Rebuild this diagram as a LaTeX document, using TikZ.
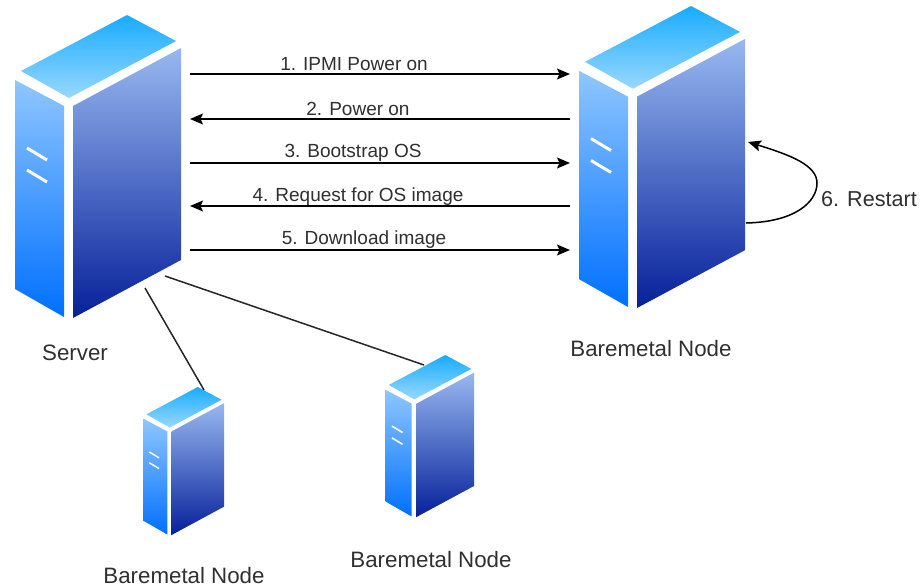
\documentclass[tikz,border=0pt]{standalone}
\usepackage{fontspec}
\setmainfont{Liberation Sans}
\usetikzlibrary{arrows.meta}
\definecolor{txt}{HTML}{303030}
\tikzset{
  facefront/.style={top color=HfT,bottom color=HfB,draw=none},
  faceside/.style={top color=HsT,bottom color=HsB,draw=none},
  facetop/.style={top color=HtT,bottom color=HtB,draw=none},
  slot/.style={draw=white,line cap=butt},
  link/.style={line width=1.5pt,draw=black!85},
  flow/.style={line width=1.5pt,draw=black,-{Stealth[length=13pt,width=11pt,inset=2.5pt]}},
  flowtext/.style={font=\fontsize{19}{22}\selectfont,text=txt,inner sep=0pt},
  nametext/.style={font=\fontsize{22.3}{26}\selectfont,text=txt,inner sep=0pt},
  hostbox/.style={draw=none,inner sep=0pt,outer sep=0pt,anchor=north west}
}
\definecolor{HfT}{HTML}{8FC6FF}
\definecolor{HfB}{HTML}{0070FF}
\definecolor{HsT}{HTML}{98B8F0}
\definecolor{HsB}{HTML}{06209A}
\definecolor{HtT}{HTML}{18ACFF}
\definecolor{HtB}{HTML}{98D8FF}
% #1 name, #2 x, #3 y, #4 w, #5 h, #6 extra width of the box on left, #7 on right
\newcommand{\hostunit}[7]{%
  \pgfmathsetmacro{\hsx}{#4/167}%
  \pgfmathsetmacro{\hsy}{#5/303}%
  \begin{scope}[shift={(#2,#3)},x=\hsx pt,y=-\hsy pt]
    \shade[facefront] (1,65) -- (50,91) -- (50,302) -- (1,274) -- cycle;
    \shade[faceside] (59,91) -- (167,33) -- (167,245) -- (59,303) -- cycle;
    \shade[facetop] (7,56) -- (113,0) -- (162,26) -- (55,83) -- cycle;
    \draw[slot,line width=\hsx*3pt] (13,133) -- (33,145);
    \draw[slot,line width=\hsx*3pt] (13,155) -- (33,167);
  \end{scope}
  \pgfmathsetmacro{\hbw}{#4+#6+#7}%
  \node[hostbox,minimum width=\hbw pt,minimum height=#5 pt] (#1) at (#2-#6,#3) {};
}
\begin{document}
\begin{tikzpicture}[x=1pt,y=-1pt]
\useasboundingbox[fill=white] (0,0) rectangle (920,588);
\hostunit{server}{14}{15}{167}{303}{0}{9}
\hostunit{target}{578}{6}{167}{302}{8}{1}
\hostunit{nodeA}{143}{387}{81}{148}{0}{0}
\hostunit{nodeB}{385}{355}{89}{162}{0}{0}
\coordinate (r1) at (0,74);
\coordinate (r2) at (0,119);
\coordinate (r3) at (0,163);
\coordinate (r4) at (0,206);
\coordinate (r5) at (0,250);
\coordinate (srvA) at (145,288);
\coordinate (srvB) at (165,276);
\coordinate (inA) at (204,390);
\coordinate (inB) at (424,365);
\coordinate (rs) at (746,223);
\coordinate (re) at (748,142);
\draw[flow] (server.east |- r1) -- (target.west |- r1);
\draw[flow] (target.west |- r2) -- (server.east |- r2);
\draw[flow] (server.east |- r3) -- (target.west |- r3);
\draw[flow] (target.west |- r4) -- (server.east |- r4);
\draw[flow] (server.east |- r5) -- (target.west |- r5);
\draw[link] (srvA) -- (inA);
\draw[link] (srvB) -- (inB);
\draw[flow] (rs) .. controls (795,222) and (817,202) .. (817,183) .. controls (817,165) and (790,155) .. (re);
\node[flowtext] (t1) at (354,64) {1. IPMI Power on};
\node[flowtext] (t2) at (358,109) {2. Power on};
\node[flowtext] (t3) at (353,153) {3. Bootstrap OS};
\node[flowtext] (t4) at (358,197) {4. Request for OS image};
\node[flowtext] (t5) at (364,240) {5. Download image};
\node[nametext,font=\fontsize{21.6}{25}\selectfont] (t6) at (869,199) {6. Restart};
\node[nametext] (l1) at (75,353) {Server};
\node[nametext] (l2) at (651,349) {Baremetal Node};
\node[nametext] (l3) at (184,576) {Baremetal Node};
\node[nametext] (l4) at (431,560) {Baremetal Node};
\end{tikzpicture}
\end{document}
